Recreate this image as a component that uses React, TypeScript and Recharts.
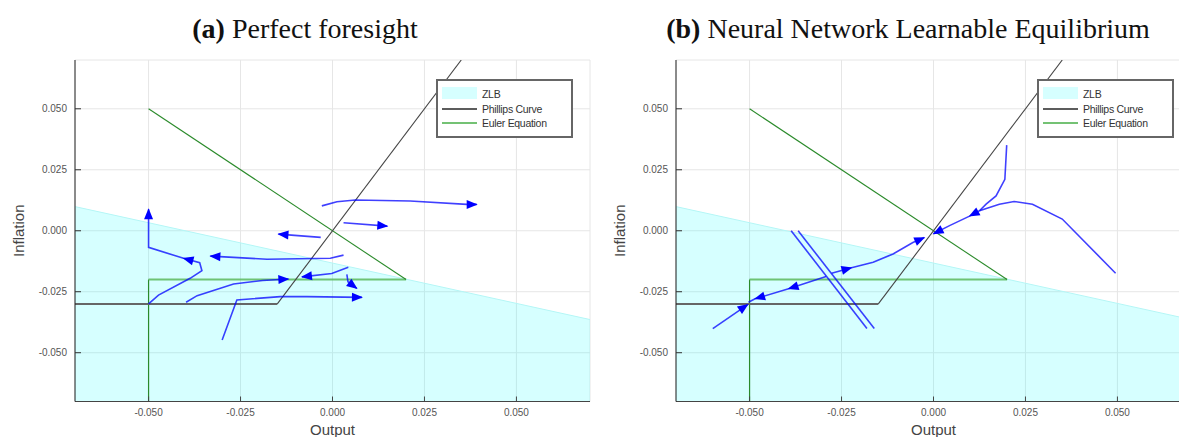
import { ComposedChart, Line, Area, XAxis, YAxis, CartesianGrid } from "recharts"

// axes
const TICKS = [-0.05, -0.025, 0, 0.025, 0.05]
const DOMAIN: [number, number] = [-0.07, 0.07]

// ZLB region upper boundary (filled down to the bottom of the plot)
const zlbBoundary = [
  { x: -0.07, y: 0.0099 },
  { x: 0.07, y: -0.0364 },
]

// Phillips curve (kinked)
const phillipsFlat = [
  { x: -0.07, y: -0.03 },
  { x: -0.015, y: -0.03 },
]
const phillipsSteep = [
  { x: -0.015, y: -0.03 },
  { x: 0.035, y: 0.07 },
]

// Euler equation
const eulerDiag = [
  { x: -0.05, y: 0.05 },
  { x: 0.02, y: -0.02 },
]
const eulerFlat = [
  { x: -0.05, y: -0.02 },
  { x: 0.02, y: -0.02 },
]
const eulerVert = [
  { x: -0.05, y: -0.07 },
  { x: -0.05, y: -0.02 },
]

type Pt = { x: number; y: number; arrow?: boolean }

// (a) perfect foresight trajectories
const pf1: Pt[] = [
  { x: -0.05, y: -0.03 },
  { x: -0.0473, y: -0.0264 },
  { x: -0.0387, y: -0.0195 },
  { x: -0.0355, y: -0.0164 },
  { x: -0.0361, y: -0.0131 },
  { x: -0.0405, y: -0.0113, arrow: true },
  { x: -0.05, y: -0.0068 },
  { x: -0.05, y: 0.0088, arrow: true },
]
const pf2: Pt[] = [
  { x: -0.0398, y: -0.0293 },
  { x: -0.0368, y: -0.0266 },
  { x: -0.0269, y: -0.0218 },
  { x: -0.019, y: -0.0204 },
  { x: -0.012, y: -0.0198, arrow: true },
]
const pf3: Pt[] = [
  { x: -0.03, y: -0.0448 },
  { x: -0.026, y: -0.0284 },
  { x: -0.0142, y: -0.027 },
  { x: -0.007, y: -0.027 },
  { x: 0.008, y: -0.0273, arrow: true },
]
const pf4: Pt[] = [
  { x: 0.003, y: -0.01 },
  { x: -0.0006, y: -0.0113 },
  { x: -0.0178, y: -0.0117 },
  { x: -0.0269, y: -0.0109 },
  { x: -0.0332, y: -0.0104, arrow: true },
]
const pf5: Pt[] = [
  { x: -0.0032, y: -0.0027 },
  { x: -0.0147, y: -0.0014, arrow: true },
]
const pf6: Pt[] = [
  { x: 0.003, y: 0.0033 },
  { x: 0.0149, y: 0.0019, arrow: true },
]
const pf7: Pt[] = [
  { x: -0.0029, y: 0.0102 },
  { x: 0.0012, y: 0.0119 },
  { x: 0.0062, y: 0.0126 },
  { x: 0.0211, y: 0.0122 },
  { x: 0.0365, y: 0.0108 },
  { x: 0.0392, y: 0.0108, arrow: true },
]
const pf8: Pt[] = [
  { x: 0.0043, y: -0.015 },
  { x: -0.0002, y: -0.0175 },
  { x: -0.0083, y: -0.0189, arrow: true },
]
const pf9: Pt[] = [
  { x: 0.0039, y: -0.0179 },
  { x: 0.0042, y: -0.0209 },
  { x: 0.0066, y: -0.0236, arrow: true },
]

// (b) neural network learnable equilibrium trajectories
const nnA: Pt[] = [
  { x: -0.06, y: -0.0401 },
  { x: -0.0505, y: -0.0303, arrow: true },
]
const nnB: Pt[] = [
  { x: -0.0292, y: -0.0188 },
  { x: -0.0394, y: -0.0238, arrow: true },
  { x: -0.0485, y: -0.0279, arrow: true },
  { x: -0.0503, y: -0.0293 },
]
const nnC: Pt[] = [
  { x: -0.0277, y: -0.0174 },
  { x: -0.0223, y: -0.0152, arrow: true },
  { x: -0.0164, y: -0.0129 },
  { x: -0.011, y: -0.0095 },
  { x: -0.0056, y: -0.0048 },
  { x: -0.0025, y: -0.0028, arrow: true },
]
const nnD: Pt[] = [
  { x: 0.0495, y: -0.0174 },
  { x: 0.035, y: 0.0048 },
  { x: 0.0269, y: 0.0109 },
  { x: 0.0219, y: 0.012 },
  { x: 0.0179, y: 0.0109 },
  { x: 0.0125, y: 0.0082 },
  { x: 0.0098, y: 0.006, arrow: true },
  { x: 0.0045, y: 0.0022 },
  { x: 0.0, y: -0.0012, arrow: true },
]
const nnE: Pt[] = [
  { x: 0.0199, y: 0.0351 },
  { x: 0.0194, y: 0.0211 },
  { x: 0.017, y: 0.0143 },
  { x: 0.0143, y: 0.0109 },
  { x: 0.0125, y: 0.0082 },
]
const nnF1: Pt[] = [
  { x: -0.0387, y: 0 },
  { x: -0.0181, y: -0.0401 },
]
const nnF2: Pt[] = [
  { x: -0.0368, y: 0 },
  { x: -0.0161, y: -0.0401 },
]

const pfPaths = [pf1, pf2, pf3, pf4, pf5, pf6, pf7, pf8, pf9]
const nnPaths = [nnA, nnB, nnC, nnD, nnE, nnF1, nnF2]

const SANS = "Liberation Sans, Arial, sans-serif"
const CYAN = "#00ffff"
const PX = 515 / 0.14
const PY = 341.5 / 0.14

function makeArrow(path: Pt[]) {
  return (props: any) => {
    const { cx, cy, index, points } = props
    const pt = path[index]
    if (!pt || !pt.arrow || index === 0 || cx == null) return <g key={`n${index}`} />
    let ang: number
    if (points && points[index - 1]) {
      const p = points[index - 1]
      ang = Math.atan2(cy - p.y, cx - p.x)
    } else {
      const p = path[index - 1]
      ang = Math.atan2(-(pt.y - p.y) * PY, (pt.x - p.x) * PX)
    }
    return (
      <path
        key={`a${index}`}
        d="M1,0 L-10,-4.5 L-10,4.5 Z"
        transform={`translate(${cx},${cy}) rotate(${(ang * 180) / Math.PI})`}
        fill="#0000ff"
        stroke="none"
      />
    )
  }
}

const fmt = (v: number) => v.toFixed(3)

function Legend() {
  return (
    <div
      style={{
        position: "absolute",
        left: 436,
        top: 79,
        width: 137,
        height: 59,
        boxSizing: "border-box",
        border: "2px solid #666",
        background: "#fff",
        fontFamily: SANS,
        fontSize: 10.5,
        color: "#333",
        letterSpacing: -0.3,
      }}
    >
      <div style={{ position: "absolute", left: 4, top: 6, width: 35, height: 12, background: "#d6ffff" }} />
      <div style={{ position: "absolute", left: 44, top: 6, lineHeight: "14px" }}>ZLB</div>
      <div style={{ position: "absolute", left: 4, top: 27, width: 35, height: 2, background: "#5c5c5c" }} />
      <div style={{ position: "absolute", left: 44, top: 21, lineHeight: "14px" }}>Phillips Curve</div>
      <div style={{ position: "absolute", left: 4, top: 41, width: 35, height: 2, background: "#74c274" }} />
      <div style={{ position: "absolute", left: 44, top: 35, lineHeight: "14px" }}>Euler Equation</div>
    </div>
  )
}

function Panel({ left, paths }: { left: number; paths: Pt[][] }) {
  return (
    <div style={{ position: "absolute", left, top: 0, width: 600, height: 437 }}>
      <ComposedChart
        width={600}
        height={437}
        data={zlbBoundary}
        margin={{ top: 60, right: 10, bottom: 0, left: 15 }}
      >
        <CartesianGrid stroke="#e6e6e6" />
        <XAxis
          type="number"
          dataKey="x"
          domain={DOMAIN}
          ticks={TICKS}
          allowDataOverflow
          height={35.5}
          tickFormatter={fmt}
          tick={{ fontSize: 10, fill: "#555", fontFamily: SANS }}
          tickSize={-5}
          tickMargin={12}
          tickLine={{ stroke: "#444" }}
          axisLine={{ stroke: "#444" }}
          label={(p: any) => {
            const vb = p.viewBox
            return (
              <text x={vb.x + vb.width / 2} y={vb.y + 33.5} textAnchor="middle" fontSize={15} fill="#444" fontFamily={SANS}>
                Output
              </text>
            )
          }}
        />
        <YAxis
          type="number"
          domain={DOMAIN}
          ticks={TICKS}
          allowDataOverflow
          width={60}
          tickFormatter={fmt}
          tick={{ fontSize: 10, fill: "#555", fontFamily: SANS }}
          tickSize={-6}
          tickMargin={14}
          tickLine={{ stroke: "#333" }}
          axisLine={{ stroke: "#222" }}
          label={(p: any) => {
            const vb = p.viewBox
            const x = vb.x + 9
            const y = vb.y + vb.height / 2
            return (
              <text x={x} y={y} transform={`rotate(-90, ${x}, ${y})`} textAnchor="middle" fontSize={15} fill="#444" fontFamily={SANS}>
                Inflation
              </text>
            )
          }}
        />
        <Area
          dataKey="y"
          type="linear"
          baseValue={-0.07}
          fill={CYAN}
          fillOpacity={0.16}
          stroke="#b4f6f6"
          strokeWidth={1}
          dot={false}
          activeDot={false}
          isAnimationActive={false}
          legendType="none"
        />
        <Line data={eulerVert} dataKey="y" stroke="#2a8a2a" strokeWidth={1.2} dot={false} activeDot={false} isAnimationActive={false} legendType="none" />
        <Line data={eulerFlat} dataKey="y" stroke="#5cb85c" strokeOpacity={0.85} strokeWidth={2} dot={false} activeDot={false} isAnimationActive={false} legendType="none" />
        <Line data={eulerDiag} dataKey="y" stroke="#2a8a2a" strokeWidth={1.1} dot={false} activeDot={false} isAnimationActive={false} legendType="none" />
        <Line data={phillipsFlat} dataKey="y" stroke="#666" strokeWidth={2} dot={false} activeDot={false} isAnimationActive={false} legendType="none" />
        <Line data={phillipsSteep} dataKey="y" stroke="#444" strokeWidth={1.1} dot={false} activeDot={false} isAnimationActive={false} legendType="none" />
        {paths.map((p, i) => (
          <Line
            key={`traj-${i}`}
            data={p}
            dataKey="y"
            type="linear"
            stroke="#0000ff"
            strokeOpacity={0.75}
            strokeWidth={1.6}
            dot={makeArrow(p)}
            activeDot={false}
            isAnimationActive={false}
            legendType="none"
          />
        ))}
      </ComposedChart>
      <Legend />
    </div>
  )
}

export default function App() {
  return (
    <div
      style={{
        position: "absolute",
        left: 0,
        top: 0,
        width: 1179,
        height: 437,
        overflow: "hidden",
        background: "#fff",
      }}
    >
      <Panel left={0} paths={pfPaths} />
      <Panel left={601} paths={nnPaths} />
      <svg width={1179} height={50} style={{ position: "absolute", left: 0, top: 0, pointerEvents: "none" }}>
        <text x={305} y={38} textAnchor="middle" fontFamily="Liberation Serif, serif" fontSize={28} fill="#111">
          <tspan fontWeight="bold">(a)</tspan> Perfect foresight
        </text>
        <text x={908} y={38} textAnchor="middle" fontFamily="Liberation Serif, serif" fontSize={28} fill="#111">
          <tspan fontWeight="bold">(b)</tspan> Neural Network Learnable Equilibrium
        </text>
      </svg>
    </div>
  )
}
